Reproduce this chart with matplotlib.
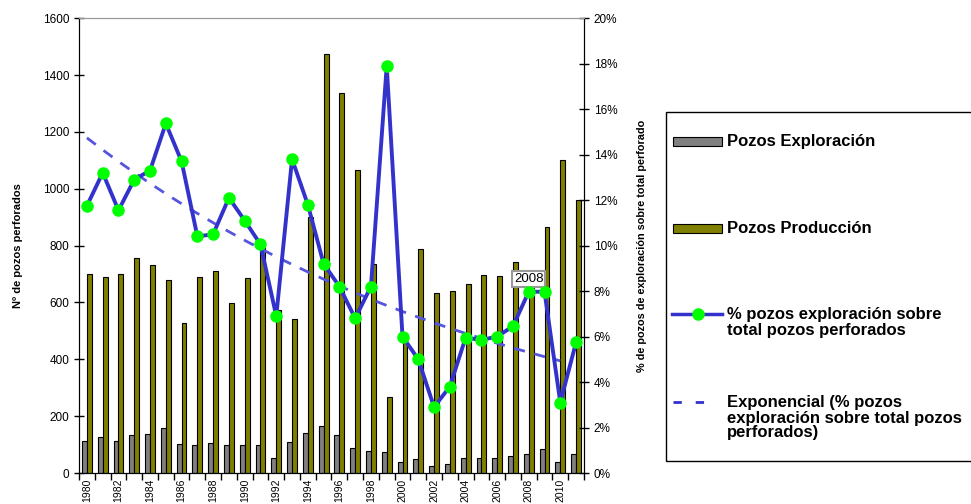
import numpy as np
import matplotlib
matplotlib.use("Agg")
import matplotlib.pyplot as plt
from matplotlib.patches import Rectangle
from matplotlib.lines import Line2D
from matplotlib.ticker import FuncFormatter, FixedLocator

plt.rcParams['font.family'] = ['Liberation Sans', 'DejaVu Sans']

years = list(range(1980, 2012))
pozos_exploracion = [114, 128, 111, 135, 138, 160, 103, 99, 105, 99, 99, 100,
                     53, 110, 142, 167, 134, 88, 77, 75, 39, 49, 25, 30,
                     54, 53, 53, 59, 66, 86, 39, 67]
pozos_produccion = [700, 690, 700, 755, 730, 680, 527, 690, 710, 597, 685, 795,
                    575, 542, 901, 1475, 1337, 1067, 736, 268, 485, 789, 633, 641,
                    666, 697, 694, 743, 650, 866, 1102, 962]
pct_exploracion = [11.75, 13.2, 11.55, 12.9, 13.3, 15.37, 13.7, 10.4, 10.5, 12.1, 11.1, 10.05,
                   6.9, 13.8, 11.8, 9.2, 8.2, 6.8, 8.2, 17.9, 6.0, 5.0, 2.9, 3.8,
                   5.95, 5.85, 6.0, 6.45, 7.97, 7.97, 3.1, 5.75]
etiqueta_anio = 2008

GRIS = '#808080'
OLIVA = '#808000'
AZUL = '#3333CC'
VERDE = '#00FF00'

x = np.arange(len(years))
pct = np.array(pct_exploracion) / 100.0

W, H = 971, 504
fig = plt.figure(figsize=(W / 100, H / 100), dpi=100)
ax = fig.add_axes([0.0814, 0.0615, 0.52, 0.9025])
ax2 = ax.twinx()

w = 0.31
ax.bar(x - w / 2, pozos_exploracion, width=w, color=GRIS, edgecolor='black', linewidth=0.8, zorder=2)
ax.bar(x + w / 2, pozos_produccion, width=w, color=OLIVA, edgecolor='black', linewidth=0.8, zorder=2)

ax.set_xlim(-0.5, len(years) - 0.5)
ax.set_ylim(0, 1600)
ax.set_yticks(range(0, 1601, 200))
ax.tick_params(axis='y', direction='inout', length=7, labelsize=8.5, width=1)
# ticks between categories, year labels every other year
ax.xaxis.set_major_locator(FixedLocator(np.arange(-0.5, len(years), 1)))
ax.set_xticklabels([])
ax.xaxis.set_minor_locator(FixedLocator(x[::2]))
ax.set_xticklabels([str(y) for y in years[::2]], minor=True, rotation=90, fontsize=7.5)
ax.tick_params(axis='x', which='major', direction='out', length=5, width=1)
ax.tick_params(axis='x', which='minor', length=0, pad=4)
ax.set_ylabel('Nº de pozos perforados', fontsize=8, fontweight='bold', labelpad=14)

# exponential trend over 1980-2010
n_fit = len(years) - 1
b, a = np.polyfit(x[:n_fit], np.log(pct[:n_fit]), 1)
trend = np.exp(a + b * x[:n_fit])

ax2.plot(x, pct, color=AZUL, linewidth=2.8, marker='o', markersize=8,
         markerfacecolor=VERDE, markeredgecolor=VERDE, zorder=4)
ax2.plot(x[:n_fit], trend, color='#5555DD', linewidth=2, linestyle=(0, (4, 3.5)), zorder=3)
ax2.set_ylim(0, 0.20)
ax2.set_yticks(np.arange(0, 0.201, 0.02))
ax2.yaxis.set_major_formatter(FuncFormatter(lambda v, p: f'{v * 100:.0f}%'))
ax2.tick_params(axis='y', direction='inout', length=7, labelsize=8.5, width=1)
ax2.set_ylabel('% de pozos de exploración sobre total perforado', fontsize=7.8,
               fontweight='bold', labelpad=14)
ax2.yaxis.set_label_position('right')

i8 = years.index(etiqueta_anio)
ax2.annotate(str(etiqueta_anio), (x[i8], pct[i8]), xytext=(0, 5), textcoords='offset points',
             ha='center', va='bottom', fontsize=9.5,
             bbox=dict(boxstyle='square,pad=0.15', facecolor='white', edgecolor='#999999', linewidth=1.5))

for a_ in (ax, ax2):
    a_.spines['top'].set_color('#999999')
    a_.spines['left'].set_color('black')
    a_.spines['right'].set_color('black')


# legend box drawn in pixel positions of the figure
def fx(px):
    return px / W


def fy(py):
    return 1 - py / H


fig.add_artist(Rectangle((fx(666), fy(461)), fx(990) - fx(666), fy(112) - fy(461),
                         transform=fig.transFigure, facecolor='white', edgecolor='black',
                         linewidth=1, zorder=0))

for yc, color in ((141.5, GRIS), (228.5, OLIVA)):
    fig.add_artist(Rectangle((fx(673), fy(yc + 4)), fx(722) - fx(673), fy(yc - 4) - fy(yc + 4),
                             transform=fig.transFigure, facecolor=color, edgecolor='black',
                             linewidth=0.8))
fig.add_artist(Line2D([fx(672), fx(722)], [fy(314), fy(314)], transform=fig.transFigure,
                      color=AZUL, linewidth=2.5))
fig.add_artist(Line2D([fx(698)], [fy(314)], transform=fig.transFigure, marker='o',
                      markersize=8, markerfacecolor=VERDE, markeredgecolor=VERDE))
fig.add_artist(Line2D([fx(673), fx(716)], [fy(402), fy(402)], transform=fig.transFigure,
                      color=AZUL, linewidth=2, linestyle=(0, (3, 5))))

textos = [
    (141.5, 'Pozos Exploración'),
    (228.5, 'Pozos Producción'),
    (322.5, '% pozos exploración sobre\ntotal pozos perforados'),
    (418.0, 'Exponencial (% pozos\nexploración sobre total pozos\nperforados)'),
]
for yc, t in textos:
    fig.text(fx(727), fy(yc), t, fontsize=12, fontweight='bold', ha='left', va='center',
             linespacing=1.0)

fig.savefig('out.png', dpi=100)
